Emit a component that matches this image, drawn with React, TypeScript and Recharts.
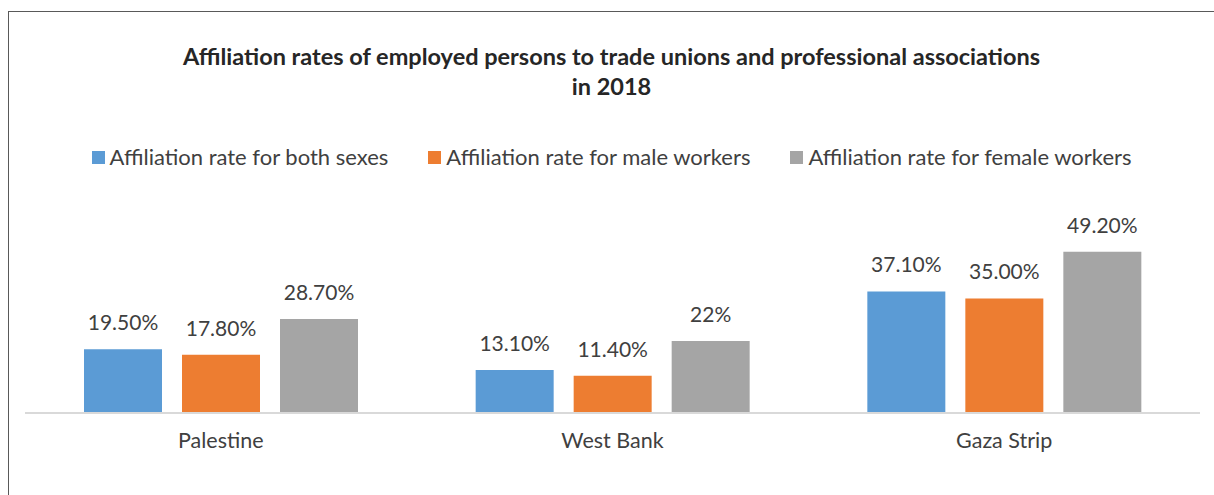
import React from 'react';
import { BarChart, Bar, XAxis, YAxis, Legend, LabelList } from 'recharts';

const categories = ['Palestine', 'West Bank', 'Gaza Strip'];
const bothSexes = [19.5, 13.1, 37.1];
const maleWorkers = [17.8, 11.4, 35.0];
const femaleWorkers = [28.7, 22, 49.2];
const bothLabels = ['19.50%', '13.10%', '37.10%'];
const maleLabels = ['17.80%', '11.40%', '35.00%'];
const femaleLabels = ['28.70%', '22%', '49.20%'];

const seriesNames = [
  'Affiliation rate for both sexes',
  'Affiliation rate for male workers',
  'Affiliation rate for female workers',
];
const colors = ['#5B9BD5', '#ED7D31', '#A5A5A5'];

const FONT = 'Lato, "Open Sans", sans-serif';

const data = categories.map((name, i) => ({
  name,
  both: bothSexes[i],
  male: maleWorkers[i],
  female: femaleWorkers[i],
  bothLabel: bothLabels[i],
  maleLabel: maleLabels[i],
  femaleLabel: femaleLabels[i],
}));

// keep the legend in series order (recharts sorts payload by name otherwise)
function LegendRow() {
  return (
    <div style={{ display: 'flex', justifyContent: 'center', gap: 40, fontFamily: FONT }}>
      {seriesNames.map((name, i) => (
        <div key={name} style={{ display: 'flex', alignItems: 'center', fontSize: 22, color: '#404040', lineHeight: '28px' }}>
          <span style={{ display: 'inline-block', width: 13, height: 13, background: colors[i], marginRight: 5 }} />
          {name}
        </div>
      ))}
    </div>
  );
}

const labelStyle = { fontFamily: FONT, fontSize: 21, fill: '#404040' };

export default function App() {
  return (
    <div
      style={{
        position: 'fixed',
        left: 8,
        top: 11,
        width: 1206,
        height: 484,
        borderLeft: '1px solid #595959',
        borderTop: '1px solid #595959',
        background: '#fff',
        fontFamily: FONT,
      }}
    >
      <div
        style={{
          position: 'absolute',
          left: 0,
          width: 1205,
          top: 29,
          textAlign: 'center',
          fontWeight: 700,
          fontSize: 23.5,
          lineHeight: '30px',
          color: '#262626',
        }}
      >
        Affiliation rates of employed persons to trade unions and professional associations
        <br />
        in 2018
      </div>
      <BarChart
        width={1205}
        height={483}
        data={data}
        margin={{ top: 204.5, right: 14, bottom: 52, left: 16 }}
        barSize={78}
        barGap={20}
      >
        <XAxis
          dataKey="name"
          height={30}
          tickLine={false}
          tickMargin={14}
          axisLine={{ stroke: '#D9D9D9', strokeWidth: 2 }}
          tick={{ fontFamily: FONT, fontSize: 21.5, fill: '#404040' }}
        />
        <YAxis hide domain={[0, 60]} />
        <Legend
          layout="horizontal"
          verticalAlign="middle"
          align="center"
          wrapperStyle={{ top: 131, left: 0, width: 1205 }}
          content={<LegendRow />}
        />
        <Bar dataKey="both" name={seriesNames[0]} fill={colors[0]} isAnimationActive={false}>
          <LabelList dataKey="bothLabel" position="top" offset={19} style={labelStyle} />
        </Bar>
        <Bar dataKey="male" name={seriesNames[1]} fill={colors[1]} isAnimationActive={false}>
          <LabelList dataKey="maleLabel" position="top" offset={19} style={labelStyle} />
        </Bar>
        <Bar dataKey="female" name={seriesNames[2]} fill={colors[2]} isAnimationActive={false}>
          <LabelList dataKey="femaleLabel" position="top" offset={19} style={labelStyle} />
        </Bar>
      </BarChart>
    </div>
  );
}
